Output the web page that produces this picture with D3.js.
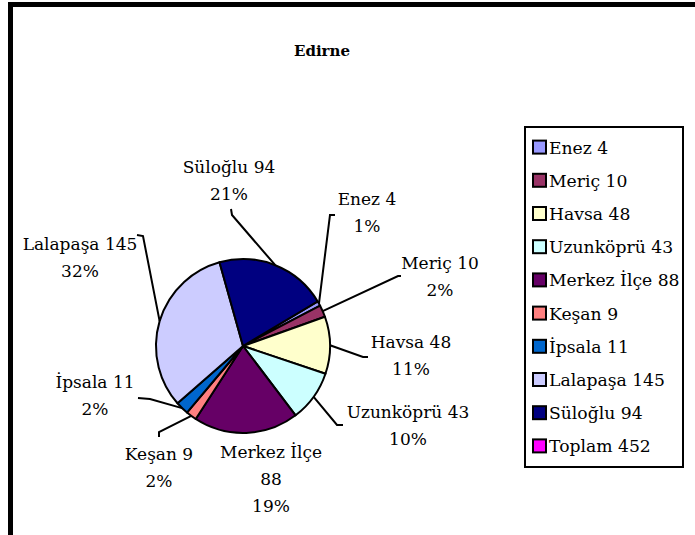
<!DOCTYPE html>
<html>
<head>
<meta charset="utf-8">
<script src="https://cdn.jsdelivr.net/npm/d3@7"></script>
<style>
  html, body { margin: 0; padding: 0; background: #fff; }
  svg { display: block; }
</style>
</head>
<body>
<svg id="chart" width="695" height="535"></svg>
<script>
// Districts of Edirne and their counts
const districts = ["Enez", "Meriç", "Havsa", "Uzunköprü", "Merkez İlçe", "Keşan", "İpsala", "Lalapaşa", "Süloğlu"];
const counts    = [4, 10, 48, 43, 88, 9, 11, 145, 94];
const totalLabel = "Toplam";
const totalValue = 452;
const sliceColors = ["#9999FF", "#993366", "#FFFFCC", "#CCFFFF", "#660066", "#FF8080", "#0066CC", "#CCCCFF", "#000080"];
const totalColor = "#FF00FF";
const chartTitle = "Edirne";

const FONT = "'DejaVu Serif', serif";

const svg = d3.select("#chart");
const W = 695, H = 535;

// Frame: heavy rule along the top and left edges
svg.append("path")
  .attr("d", `M10.5,${H + 5} L10.5,4.5 L${W + 5},4.5`)
  .attr("fill", "none").attr("stroke", "#000").attr("stroke-width", 5);

// Title
svg.append("text")
  .attr("x", 322).attr("y", 56)
  .attr("text-anchor", "middle")
  .style("font-family", FONT)
  .attr("font-size", 15).attr("font-weight", "bold")
  .text(chartTitle);

// Pie
const cx = 243, cy = 346, R = 87;
const startDeg = 59.2;
const data = districts.map((d, i) => ({ name: d, value: counts[i], color: sliceColors[i] }));
const pie = d3.pie().sort(null).value(d => d.value)
  .startAngle(startDeg * Math.PI / 180)
  .endAngle(startDeg * Math.PI / 180 + 2 * Math.PI);
const arcs = pie(data);
const arc = d3.arc().innerRadius(0).outerRadius(R);

const g = svg.append("g").attr("transform", `translate(${cx},${cy})`);
g.selectAll("path.slice").data(arcs).enter().append("path")
  .attr("class", "slice")
  .attr("d", arc)
  .attr("fill", d => d.data.color)
  .attr("stroke", "#000").attr("stroke-width", 2).attr("stroke-linejoin", "round");

const pct = v => Math.round(v / d3.sum(counts) * 100) + "%";

// Label layout: text centre, first baseline, line breaks and leader-line bends
const labelLayout = {
  "Enez":        { x: 367, y: 205, lines: d => [d.name + " " + d.value, pct(d.value)], leader: [[330, 215], [335, 215]] },
  "Meriç":       { x: 440, y: 269, lines: d => [d.name + " " + d.value, pct(d.value)], leader: [[398, 276], [401, 276]] },
  "Havsa":       { x: 411, y: 348, lines: d => [d.name + " " + d.value, pct(d.value)], leader: [[363, 357], [368, 357]] },
  "Uzunköprü":   { x: 408, y: 418, lines: d => [d.name + " " + d.value, pct(d.value)], leader: [[337, 425], [343, 425]] },
  "Merkez İlçe": { x: 271, y: 458, lines: d => [d.name, String(d.value), pct(d.value)], leader: null },
  "Keşan":       { x: 159, y: 460, lines: d => [d.name + "  " + d.value, pct(d.value)], leader: [[159, 432], [159, 437]] },
  "İpsala":      { x: 95,  y: 388, lines: d => [d.name + " " + d.value, pct(d.value)], leader: [[150, 399], [138, 398]] },
  "Lalapaşa":    { x: 80,  y: 250, lines: d => [d.name + " " + d.value, pct(d.value)], leader: [[143, 236], [137, 235]] },
  "Süloğlu":     { x: 229, y: 173, lines: d => [d.name + " " + d.value, pct(d.value)], leader: [[232, 215], [231, 209]] }
};
const lineGap = 27;

arcs.forEach(a => {
  const L = labelLayout[a.data.name];
  if (L.leader) {
    const mid = (a.startAngle + a.endAngle) / 2;
    const p0 = [cx + R * Math.sin(mid), cy - R * Math.cos(mid)];
    svg.append("path")
      .attr("d", d3.line()([p0, ...L.leader]))
      .attr("fill", "none").attr("stroke", "#000").attr("stroke-width", 2);
  }
  const t = svg.append("text")
    .attr("text-anchor", "middle")
    .style("font-family", FONT)
    .attr("font-size", 17);
  L.lines(a.data).forEach((s, i) => {
    t.append("tspan").attr("x", L.x).attr("y", L.y + i * lineGap).text(s);
  });
});

// Legend
const legendItems = data.map(d => ({ label: d.name + " " + d.value, color: d.color }))
  .concat([{ label: totalLabel + " " + totalValue, color: totalColor }]);
const lgX = 525, lgY = 127, lgW = 158, lgH = 340;
svg.append("rect")
  .attr("x", lgX).attr("y", lgY).attr("width", lgW).attr("height", lgH)
  .attr("fill", "#fff").attr("stroke", "#000").attr("stroke-width", 2);
const rowY = d3.scaleBand().domain(d3.range(legendItems.length)).range([lgY + 4, lgY + lgH - 4]);
const rows = svg.selectAll("g.legend").data(legendItems).enter().append("g")
  .attr("class", "legend")
  .attr("transform", (d, i) => `translate(${lgX + 8},${rowY(i) + rowY.bandwidth() / 2})`);
rows.append("rect")
  .attr("x", 0).attr("y", -7).attr("width", 13).attr("height", 13)
  .attr("fill", d => d.color).attr("stroke", "#000").attr("stroke-width", 2);
rows.append("text")
  .attr("x", 16).attr("y", 6)
  .style("font-family", FONT)
  .attr("font-size", 17.2)
  .text(d => d.label);
</script>
</body>
</html>
